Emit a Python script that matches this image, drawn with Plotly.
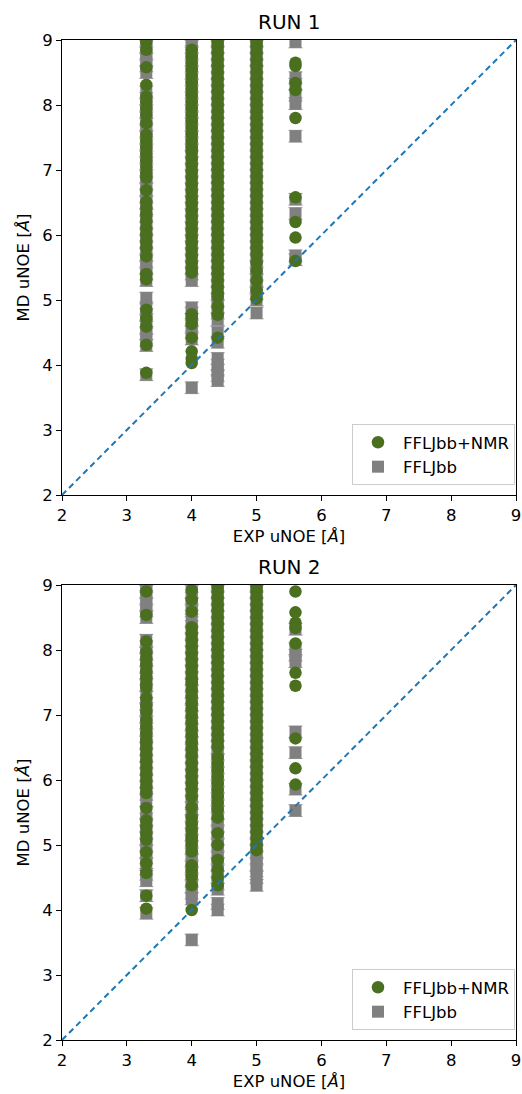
import plotly.graph_objects as go

# ---------------- data ----------------
exp_cols = [3.3, 4.0, 4.4, 5.0, 5.6]

# RUN 1, FFLJbb+NMR (green circles)
r1_nmr_33 = [8.97, 8.85, 8.58, 8.31, 8.13, 8.05, 7.95, 7.85, 7.72, 7.54, 7.45, 7.35, 7.25, 7.15, 7.05, 6.95,
             6.88, 6.69, 6.51, 6.42, 6.32, 6.22, 6.1, 6.0, 5.9, 5.8, 5.67, 5.4, 5.32, 4.85, 4.72, 4.59, 4.31, 3.88]
r1_nmr_40 = [8.85, 8.75, 8.65, 8.55, 8.45, 8.35, 8.25, 8.15, 8.05, 7.95, 7.85, 7.75, 7.65, 7.55, 7.45, 7.35,
             7.28, 7.18, 7.08, 6.98, 6.88, 6.78, 6.68, 6.58, 6.48, 6.38, 6.28, 6.18, 6.08, 5.98, 5.88, 5.78,
             5.68, 5.58, 5.48, 5.42, 4.78, 4.72, 4.63, 4.42, 4.21, 4.1, 4.03]
r1_nmr_44 = [8.97, 8.9, 8.8, 8.7, 8.6, 8.5, 8.4, 8.3, 8.2, 8.1, 8.0, 7.9, 7.8, 7.7, 7.6, 7.5, 7.4, 7.3, 7.2,
             7.1, 7.0, 6.9, 6.8, 6.7, 6.6, 6.5, 6.4, 6.3, 6.2, 6.1, 6.0, 5.9, 5.8, 5.7, 5.6, 5.5, 5.4, 5.3,
             5.2, 5.1, 5.05, 4.9, 4.77, 4.42]
r1_nmr_50 = [8.97, 8.9, 8.8, 8.7, 8.6, 8.5, 8.4, 8.3, 8.2, 8.1, 8.0, 7.9, 7.8, 7.7, 7.6, 7.5, 7.4, 7.3, 7.2,
             7.1, 7.0, 6.9, 6.8, 6.7, 6.6, 6.5, 6.4, 6.3, 6.2, 6.1, 6.0, 5.9, 5.8, 5.7, 5.58, 5.45, 5.3, 5.15,
             5.02]
r1_nmr_56 = [8.65, 8.6, 8.34, 8.23, 7.8, 6.58, 6.2, 5.96, 5.6]

# RUN 1, FFLJbb (grey squares)
r1_ff_33 = [9.0, 8.9, 8.8, 8.7, 8.6, 8.5, 8.2, 8.1, 8.0, 7.9, 7.8, 7.7, 7.6, 7.5, 7.4, 7.3, 7.2, 7.1, 7.0,
            6.9, 6.8, 6.7, 6.6, 6.5, 6.4, 6.3, 6.2, 6.1, 6.0, 5.9, 5.8, 5.7, 5.6, 5.5, 5.4, 5.3, 5.03, 4.88,
            4.78, 4.68, 4.58, 4.48, 4.38, 4.3, 3.85]
r1_ff_40 = [9.0, 8.9, 8.8, 8.7, 8.6, 8.5, 8.4, 8.3, 8.2, 8.1, 8.0, 7.9, 7.8, 7.7, 7.6, 7.5, 7.4, 7.3, 7.2,
            7.1, 7.0, 6.9, 6.8, 6.7, 6.6, 6.5, 6.4, 6.3, 6.2, 6.1, 6.0, 5.9, 5.8, 5.7, 5.6, 5.5, 5.4, 5.3,
            4.88, 4.8, 4.7, 4.6, 4.5, 4.4, 3.65]
r1_ff_44 = [9.0, 8.9, 8.8, 8.7, 8.6, 8.5, 8.4, 8.3, 8.2, 8.1, 8.0, 7.9, 7.8, 7.7, 7.6, 7.5, 7.4, 7.3, 7.2,
            7.1, 7.0, 6.9, 6.8, 6.7, 6.6, 6.5, 6.4, 6.3, 6.2, 6.1, 6.0, 5.9, 5.8, 5.7, 5.6, 5.5, 5.4, 5.3,
            5.2, 5.1, 5.0, 4.9, 4.8, 4.7, 4.5, 4.35, 4.1, 4.0, 3.92, 3.84, 3.76]
r1_ff_50 = [9.0, 8.9, 8.8, 8.7, 8.6, 8.5, 8.4, 8.3, 8.2, 8.1, 8.0, 7.9, 7.8, 7.7, 7.6, 7.5, 7.4, 7.3, 7.2,
            7.1, 7.0, 6.9, 6.8, 6.7, 6.6, 6.5, 6.4, 6.3, 6.2, 6.1, 6.0, 5.9, 5.8, 5.7, 5.6, 5.5, 5.4, 5.3,
            5.2, 5.1, 5.0, 4.8]
r1_ff_56 = [8.97, 8.42, 8.32, 8.15, 8.02, 7.52, 6.55, 6.33, 5.68, 5.62]

# RUN 2, FFLJbb+NMR (green circles)
r2_nmr_33 = [8.9, 8.54, 8.13, 7.97, 7.87, 7.77, 7.67, 7.57, 7.47, 7.42, 7.26, 7.15, 7.05, 6.92, 6.82, 6.72,
             6.62, 6.57, 6.49, 6.39, 6.29, 6.19, 6.09, 5.99, 5.89, 5.8, 5.57, 5.38, 5.28, 5.18, 5.08, 4.89,
             4.72, 4.57, 4.22, 4.02]
r2_nmr_40 = [8.92, 8.77, 8.59, 8.35, 8.25, 8.15, 8.05, 7.95, 7.85, 7.75, 7.65, 7.55, 7.49, 7.38, 7.28, 7.18,
             7.08, 6.98, 6.88, 6.78, 6.68, 6.58, 6.48, 6.38, 6.26, 6.15, 6.05, 5.95, 5.85, 5.74, 5.58, 5.43,
             5.33, 5.23, 5.13, 5.08, 5.0, 4.9, 4.69, 4.6, 4.51, 4.38, 4.0]
r2_nmr_44 = [8.97, 8.9, 8.8, 8.7, 8.6, 8.5, 8.4, 8.3, 8.2, 8.1, 8.0, 7.9, 7.8, 7.7, 7.6, 7.5, 7.4, 7.3, 7.2,
             7.1, 7.0, 6.9, 6.8, 6.7, 6.6, 6.51, 6.35, 6.25, 6.15, 6.05, 5.95, 5.85, 5.75, 5.65, 5.55, 5.42,
             5.18, 5.0, 4.77, 4.62, 4.5, 4.38]
r2_nmr_50 = [8.97, 8.9, 8.8, 8.7, 8.6, 8.5, 8.4, 8.3, 8.2, 8.1, 8.0, 7.9, 7.8, 7.7, 7.6, 7.5, 7.4, 7.3, 7.2,
             7.1, 7.0, 6.9, 6.8, 6.7, 6.6, 6.5, 6.4, 6.3, 6.2, 6.1, 6.0, 5.9, 5.8, 5.7, 5.6, 5.5, 5.4, 5.3,
             5.2, 5.1, 5.0, 4.92]
r2_nmr_56 = [8.9, 8.58, 8.42, 8.34, 8.1, 7.65, 7.45, 6.64, 6.18, 5.93]

# RUN 2, FFLJbb (grey squares)
r2_ff_33 = [9.0, 8.9, 8.8, 8.7, 8.6, 8.5, 8.15, 8.05, 7.95, 7.85, 7.75, 7.65, 7.55, 7.45, 7.28, 7.18, 7.08,
            6.98, 6.88, 6.78, 6.68, 6.58, 6.48, 6.38, 6.28, 6.18, 6.08, 5.98, 5.88, 5.78, 5.68, 5.5, 5.4,
            5.3, 5.2, 5.1, 5.0, 4.9, 4.8, 4.7, 4.55, 4.45, 4.22, 3.95]
r2_ff_40 = [8.9, 8.8, 8.7, 8.6, 8.46, 8.36, 8.26, 8.16, 8.06, 7.96, 7.86, 7.76, 7.66, 7.56, 7.46, 7.36, 7.26,
            7.16, 7.06, 6.96, 6.86, 6.76, 6.66, 6.56, 6.46, 6.36, 6.26, 6.16, 6.06, 5.96, 5.86, 5.76, 5.66,
            5.56, 5.46, 5.36, 5.26, 5.16, 5.06, 4.96, 4.86, 4.76, 4.66, 4.56, 4.46, 4.36, 4.26, 4.17, 3.54]
r2_ff_44 = [9.0, 8.9, 8.8, 8.7, 8.6, 8.5, 8.4, 8.3, 8.2, 8.1, 8.0, 7.9, 7.8, 7.7, 7.6, 7.5, 7.4, 7.3, 7.2,
            7.1, 7.0, 6.9, 6.8, 6.7, 6.6, 6.5, 6.4, 6.3, 6.2, 6.1, 6.0, 5.9, 5.8, 5.7, 5.6, 5.5, 5.4, 5.3,
            5.2, 5.1, 5.0, 4.9, 4.8, 4.7, 4.6, 4.5, 4.4, 4.32, 4.1, 4.0]
r2_ff_50 = [9.0, 8.9, 8.8, 8.7, 8.6, 8.5, 8.4, 8.3, 8.2, 8.1, 8.0, 7.9, 7.8, 7.7, 7.6, 7.5, 7.4, 7.3, 7.2,
            7.1, 7.0, 6.9, 6.8, 6.7, 6.6, 6.5, 6.4, 6.3, 6.2, 6.1, 6.0, 5.9, 5.8, 5.7, 5.6, 5.5, 5.4, 5.3,
            5.2, 5.1, 5.0, 4.9, 4.8, 4.7, 4.6, 4.5, 4.38]
r2_ff_56 = [8.32, 8.02, 7.92, 7.82, 6.74, 6.42, 5.86, 5.53]

diag = [2, 9]
tick_vals = [2, 3, 4, 5, 6, 7, 8, 9]
series_names = ["FFLJbb+NMR", "FFLJbb"]
run_titles = ["RUN 1", "RUN 2"]

GREEN = "#4a6f1f"
GREY = "#808080"
BLUE = "#1f77b4"
FONT = "DejaVu Sans"
FS = 16.5
FS_TITLE = 20

runs = [
    ([r1_nmr_33, r1_nmr_40, r1_nmr_44, r1_nmr_50, r1_nmr_56],
     [r1_ff_33, r1_ff_40, r1_ff_44, r1_ff_50, r1_ff_56]),
    ([r2_nmr_33, r2_nmr_40, r2_nmr_44, r2_nmr_50, r2_nmr_56],
     [r2_ff_33, r2_ff_40, r2_ff_44, r2_ff_50, r2_ff_56]),
]


def flatten(cols):
    xs, ys = [], []
    for xv, vals in zip(exp_cols, cols):
        xs += [xv] * len(vals)
        ys += vals
    return xs, ys


W, H = 522, 1094
fig = go.Figure()

# pixel geometry
px_left, px_right = 62, 516
plot_tops = [40, 585]
plot_h = 455

for i, (nmr, ff) in enumerate(runs):
    ax = "" if i == 0 else "2"
    leg = "legend" if i == 0 else "legend2"
    fx, fy = flatten(ff)
    nx, ny = flatten(nmr)
    fig.add_trace(go.Scatter(
        x=fx, y=fy, mode="markers", name=series_names[1],
        marker=dict(symbol="square", size=12, color=GREY, line=dict(width=0)),
        error_y=dict(type="constant", value=0.09, color="#9a9a9a", thickness=1, width=7),
        xaxis="x" + ax, yaxis="y" + ax, legend=leg, legendrank=2))
    fig.add_trace(go.Scatter(
        x=nx, y=ny, mode="markers", name=series_names[0],
        marker=dict(symbol="circle", size=12.5, color=GREEN, line=dict(width=0)),
        xaxis="x" + ax, yaxis="y" + ax, legend=leg, legendrank=1))
    fig.add_trace(go.Scatter(
        x=diag, y=diag, mode="lines", line=dict(color=BLUE, width=2, dash="6px,4px"),
        showlegend=False, xaxis="x" + ax, yaxis="y" + ax))

axis_common = dict(
    range=[2, 9], tickvals=tick_vals, ticks="outside", ticklen=5, tickwidth=1, tickcolor="black",
    showline=True, linecolor="black", linewidth=1, mirror=True, showgrid=False, zeroline=False,
    tickfont=dict(family=FONT, size=FS, color="black"), automargin=False,
)

layout = dict(
    width=W, height=H, margin=dict(l=0, r=0, t=0, b=0, autoexpand=False),
    paper_bgcolor="white", plot_bgcolor="white",
    font=dict(family=FONT, color="black"),
    annotations=[],
)
for i in range(2):
    sfx = "" if i == 0 else "2"
    top = plot_tops[i]
    bot = top + plot_h
    ydom = [1 - bot / H, 1 - top / H]
    xdom = [px_left / W, px_right / W]
    layout["xaxis" + sfx] = dict(axis_common, domain=xdom, anchor="y" + sfx,
                                 title=dict(text="EXP uNOE [<i>Å</i>]", standoff=6,
                                            font=dict(family=FONT, size=FS, color="black")))
    layout["yaxis" + sfx] = dict(axis_common, domain=ydom, anchor="x" + sfx,
                                 title=dict(text="MD uNOE [<i>Å</i>]", standoff=8,
                                            font=dict(family=FONT, size=FS, color="black")))
    layout["annotations"].append(dict(
        text=run_titles[i], x=(xdom[0] + xdom[1]) / 2, y=1 - (top - 4) / H,
        xref="paper", yref="paper", xanchor="center", yanchor="bottom", showarrow=False,
        font=dict(family=FONT, size=FS_TITLE, color="black")))
    layout["legend" if i == 0 else "legend2"] = dict(
        x=(px_right - 1) / W, y=1 - (bot - 10) / H, xanchor="right", yanchor="bottom",
        bgcolor="rgba(255,255,255,0.8)", bordercolor="#cccccc", borderwidth=1,
        font=dict(family=FONT, size=FS, color="black"), traceorder="normal",
        itemwidth=40, tracegroupgap=0)

fig.update_layout(**layout)
fig.write_html("out.html")
